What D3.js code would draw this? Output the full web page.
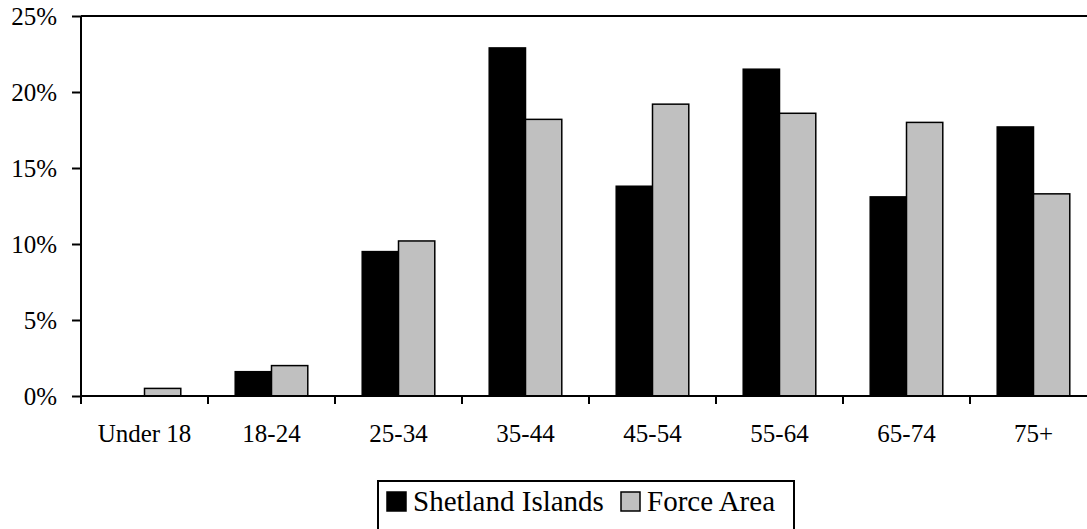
<!DOCTYPE html>
<html><head><meta charset="utf-8">
<script src="https://cdn.jsdelivr.net/npm/d3@7"></script>
<style>
html,body{margin:0;padding:0;background:#fff;}
svg{display:block;}
</style></head>
<body>
<svg id="chart" width="1087" height="529"></svg>
<script>
const categories = ["Under 18","18-24","25-34","35-44","45-54","55-64","65-74","75+"];
const seriesNames = ["Shetland Islands","Force Area"];
const shetland = [0, 1.6, 9.5, 22.9, 13.8, 21.5, 13.1, 17.7];
const forceArea = [0.5, 2.0, 10.2, 18.2, 19.2, 18.6, 18.0, 13.3];
const yTicks = [0, 5, 10, 15, 20, 25];
const colors = ["#000000", "#c0c0c0"];
const FONT = '"Liberation Serif"';

(function(){
const svg = d3.select("#chart");
const mLeft = 81, mTop = 16, mBottom = 396, catW = 127;
const mRight = mLeft + catW * categories.length;

const x = d3.scaleBand().domain(categories).range([mLeft, mRight]).padding(0);
const x1 = d3.scaleBand().domain(seriesNames).range([0, x.bandwidth()]).paddingInner(0).paddingOuter(0.75);
const y = d3.scaleLinear().domain([0, 25]).range([mBottom, mTop]);

const data = categories.map((c, i) => ({cat: c, vals: [shetland[i], forceArea[i]]}));

const g = svg.append("g");
data.forEach(d => {
  d.vals.forEach((v, j) => {
    if (v <= 0) return;
    g.append("rect")
      .attr("x", x(d.cat) + x1(seriesNames[j]))
      .attr("y", y(v))
      .attr("width", x1.bandwidth())
      .attr("height", y(0) - y(v))
      .attr("fill", colors[j])
      .attr("stroke", "#000")
      .attr("stroke-width", 1.5);
  });
});

svg.append("line").attr("x1", mLeft).attr("x2", 1087).attr("y1", y(25)).attr("y2", y(25))
  .attr("stroke", "#000").attr("stroke-width", 2);

const yAxis = d3.axisLeft(y).tickValues(yTicks).tickSize(9).tickPadding(15).tickFormat(d => d + "%");
const ya = svg.append("g").attr("transform", `translate(${mLeft},0)`).call(yAxis);
ya.attr("font-family", null).attr("font-size", null);
ya.select(".domain").attr("stroke-width", 2).attr("d", `M0,${y(0)}V${y(25)}`);
ya.selectAll(".tick line").attr("stroke-width", 2);
ya.selectAll(".tick text").attr("dy", "0.35em").attr("fill", "#000")
  .style("font-family", FONT).style("font-size", "25px");

const xAxis = d3.axisBottom(x).tickSize(0).tickPadding(28);
const xa = svg.append("g").attr("transform", `translate(0,${mBottom})`).call(xAxis);
xa.attr("font-family", null).attr("font-size", null);
xa.select(".domain").attr("stroke-width", 2).attr("d", `M${mLeft},0H1087`);
xa.selectAll(".tick text").attr("fill", "#000").style("font-family", FONT).style("font-size", "25px");
const bounds = categories.map(c => x(c)).concat([mRight]);
xa.selectAll(".btick").data(bounds).enter().append("line")
  .attr("x1", d => d).attr("x2", d => d).attr("y1", 0).attr("y2", 8)
  .attr("stroke", "#000").attr("stroke-width", 2);

const lg = svg.append("g");
lg.append("rect").attr("x", 378).attr("y", 481).attr("width", 416).attr("height", 60)
  .attr("fill", "#fff").attr("stroke", "#000").attr("stroke-width", 2);
const items = [{name: seriesNames[0], c: colors[0], sx: 387, tx: 413},
               {name: seriesNames[1], c: colors[1], sx: 621, tx: 647}];
items.forEach(it => {
  lg.append("rect").attr("x", it.sx).attr("y", 492).attr("width", 19).attr("height", 19)
    .attr("fill", it.c).attr("stroke", "#000").attr("stroke-width", 1.5);
  lg.append("text").attr("x", it.tx).attr("y", 511)
    .style("font-family", FONT).style("font-size", "29px").text(it.name);
});
})();
</script>
</body></html>
